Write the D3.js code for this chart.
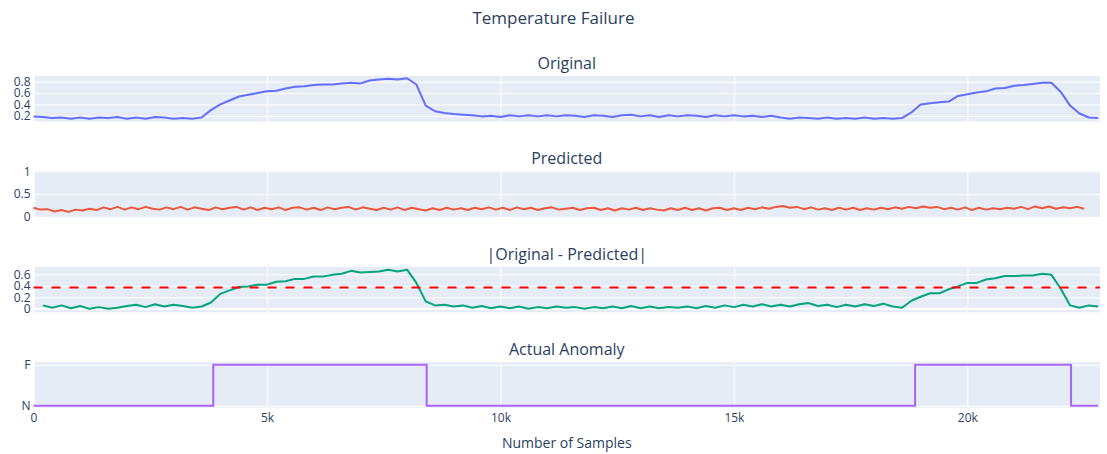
<!DOCTYPE html>
<html>
<head>
<meta charset="utf-8">
<script src="https://cdn.jsdelivr.net/npm/d3@7"></script>
<style>
  body { margin: 0; background: #fff; }
  text { font-family: "Open Sans", sans-serif; fill: #2a3f5f; }
</style>
</head>
<body>
<div id="vis"></div>
<script>
// x axis (sample number) ticks
var xTickValues = [0, 5000, 10000, 15000, 20000];
var xTickLabels = ["0", "5k", "10k", "15k", "20k"];

// Original signal, one reading every 200 samples starting at 0
var originalStep = 200;
var originalValues = [
  0.19,0.18,0.16,0.17,0.15,0.17,0.15,0.17,0.16,0.18,0.15,0.17,0.15,0.18,0.17,0.15,0.16,0.15,
  0.17,0.30,0.40,0.47,0.54,0.57,0.60,0.63,0.64,0.68,
  0.71,0.72,0.74,0.75,0.75,0.77,0.78,0.77,0.82,0.84,
  0.85,0.84,0.86,0.75,0.38,0.28,0.25,0.23,0.22,0.21,0.19,
  0.20,0.18,0.21,0.19,0.21,0.19,0.21,0.19,0.21,0.20,
  0.18,0.21,0.20,0.18,0.21,0.22,0.19,0.21,0.18,0.21,
  0.19,0.21,0.20,0.18,0.21,0.19,0.21,0.19,0.20,0.18,0.20,
  0.17,0.15,0.17,0.16,0.15,0.17,0.15,0.16,0.15,0.17,0.15,0.16,0.15,
  0.16,0.26,0.40,0.42,0.44,0.45,0.55,0.58,0.61,0.63,
  0.68,0.69,0.73,0.74,0.76,0.78,0.78,0.62,0.38,0.24,
  0.17,0.16
];

// Predicted signal, one reading every 150 samples starting at 0
var predictedStep = 150;
var predictedValues = [
  0.20,0.16,0.17,0.12,0.15,0.11,0.16,0.14,0.18,0.15,
  0.21,0.17,0.22,0.16,0.21,0.17,0.22,0.18,0.16,0.21,
  0.17,0.22,0.16,0.21,0.18,0.15,0.21,0.17,0.20,0.22,
  0.16,0.21,0.15,0.20,0.17,0.21,0.15,0.20,0.21,0.16,
  0.20,0.15,0.21,0.17,0.20,0.22,0.16,0.21,0.18,0.15,
  0.20,0.16,0.21,0.15,0.20,0.17,0.14,0.19,0.15,0.20,
  0.16,0.19,0.15,0.20,0.17,0.21,0.16,0.20,0.15,0.21,
  0.17,0.20,0.15,0.19,0.21,0.16,0.18,0.20,0.15,0.19,
  0.20,0.15,0.19,0.14,0.19,0.16,0.20,0.15,0.19,0.16,
  0.14,0.19,0.15,0.20,0.15,0.19,0.14,0.19,0.20,0.15,
  0.19,0.15,0.20,0.17,0.21,0.18,0.22,0.24,0.20,0.22,
  0.17,0.21,0.16,0.19,0.15,0.20,0.16,0.20,0.15,0.19,
  0.16,0.20,0.17,0.21,0.18,0.22,0.19,0.23,0.20,0.22,
  0.17,0.20,0.16,0.21,0.15,0.20,0.16,0.19,0.17,0.20,
  0.18,0.22,0.17,0.23,0.19,0.23,0.18,0.21,0.19,0.22,
  0.18
];

// |Original - Predicted|, one reading every 200 samples starting at 200
var diffStart = 200;
var diffStep = 200;
var diffValues = [
  0.06,0.02,0.06,0.01,0.05,0.00,0.03,0.00,0.02,0.05,0.07,0.03,0.08,0.04,0.07,0.05,0.02,
  0.04,0.11,0.26,0.32,0.38,0.39,0.42,0.42,0.47,0.48,
  0.52,0.52,0.56,0.56,0.59,0.61,0.66,0.63,0.64,0.65,
  0.68,0.65,0.68,0.45,0.13,0.06,0.07,0.04,0.06,0.02,0.05,
  0.01,0.04,0.01,0.04,0.00,0.03,0.01,0.04,0.02,0.03,
  0.00,0.03,0.01,0.04,0.01,0.05,0.01,0.04,0.01,0.03,
  0.02,0.04,0.01,0.05,0.02,0.06,0.03,0.07,0.04,0.08,0.04,
  0.07,0.04,0.08,0.10,0.05,0.07,0.03,0.07,0.04,0.08,0.05,0.09,0.04,
  0.02,0.14,0.21,0.27,0.27,0.34,0.39,0.45,0.45,0.51,
  0.53,0.57,0.57,0.58,0.58,0.61,0.59,0.35,0.06,0.02,
  0.06,0.04
];
var threshold = 0.37;

// Actual anomaly state changes
var anomalySamples = [0, 3850, 8420, 18880, 22220, 22800];
var anomalyStates = ["N", "F", "N", "F", "N", "N"];
var anomalyCategories = ["N", "F"];

// y ticks per panel
var originalTicks = [0.2, 0.4, 0.6, 0.8];
var predictedTicks = [0, 0.5, 1];
var diffTicks = [0, 0.2, 0.4, 0.6];

var width = 1107, height = 454;
var left = 33.5, right = 1100;
var panelH = 45.5, firstTop = 76, pitch = 95.4;

var svg = d3.select("#vis").append("svg")
    .attr("width", width)
    .attr("height", height);

var x = d3.scaleLinear().domain([0, 22840]).range([left, right]);

svg.append("text")
    .attr("x", width / 2)
    .attr("y", 24)
    .attr("text-anchor", "middle")
    .style("font-size", "17px")
    .text("Temperature Failure");

function makePanel(i, title, yDomain, ticks, tickLabels, showX) {
    var top = firstTop + i * pitch;
    var y = d3.scaleLinear().domain(yDomain).range([top + panelH, top]);
    var g = svg.append("g");

    g.append("rect")
        .attr("x", left).attr("y", top)
        .attr("width", right - left).attr("height", panelH)
        .attr("fill", "#E5ECF6");

    // vertical grid + x labels
    var xa = g.append("g")
        .attr("transform", "translate(0," + (top + panelH) + ")")
        .call(d3.axisBottom(x)
            .tickValues(xTickValues)
            .tickSize(-panelH)
            .tickPadding(6)
            .tickFormat(function(d, k) { return showX ? xTickLabels[k] : ""; }));
    xa.select(".domain").remove();
    xa.selectAll("line").attr("stroke", "#fff").attr("stroke-width", 1);
    xa.selectAll("text").style("font-size", "12px").attr("fill", "#2a3f5f");

    // horizontal grid + y labels
    var ya = g.append("g")
        .attr("transform", "translate(" + left + ",0)")
        .call(d3.axisLeft(y)
            .tickValues(ticks)
            .tickSize(-(right - left))
            .tickPadding(3)
            .tickFormat(function(d, k) { return tickLabels ? tickLabels[k] : String(d); }));
    ya.select(".domain").remove();
    ya.selectAll("line").attr("stroke", "#fff").attr("stroke-width", 1);
    ya.selectAll("text").style("font-size", "12px").attr("fill", "#2a3f5f");

    // x zero line
    g.append("line")
        .attr("x1", x(0)).attr("x2", x(0))
        .attr("y1", top).attr("y2", top + panelH)
        .attr("stroke", "#fff").attr("stroke-width", 2);

    svg.append("text")
        .attr("x", (left + right) / 2)
        .attr("y", top - 7)
        .attr("text-anchor", "middle")
        .style("font-size", "16px")
        .text(title);

    return { g: g, y: y, top: top };
}

function drawLine(p, values, start, step, color) {
    var line = d3.line()
        .x(function(d, k) { return x(start + k * step); })
        .y(function(d) { return p.y(d); });
    p.g.append("path")
        .datum(values)
        .attr("d", line)
        .attr("fill", "none")
        .attr("stroke", color)
        .attr("stroke-width", 2)
        .attr("stroke-linejoin", "round");
}

var p1 = makePanel(0, "Original", [0.1, 0.9], originalTicks, null, false);
drawLine(p1, originalValues, 0, originalStep, "#636EFA");

var p2 = makePanel(1, "Predicted", [0, 1], predictedTicks, null, false);
drawLine(p2, predictedValues, 0, predictedStep, "#EF553B");

var p3 = makePanel(2, "|Original - Predicted|", [-0.06, 0.73], diffTicks, null, false);
p3.g.append("line")
    .attr("x1", left).attr("x2", right)
    .attr("y1", p3.y(0)).attr("y2", p3.y(0))
    .attr("stroke", "#fff").attr("stroke-width", 2);
drawLine(p3, diffValues, diffStart, diffStep, "#05A47C");
p3.g.append("line")
    .attr("x1", left).attr("x2", right)
    .attr("y1", p3.y(threshold)).attr("y2", p3.y(threshold))
    .attr("stroke", "#ff0000")
    .attr("stroke-width", 2)
    .attr("stroke-dasharray", "9,9");

var p4 = makePanel(3, "Actual Anomaly", [-0.05, 1.065], [0, 1], anomalyCategories, true);
var stepLine = d3.line()
    .x(function(d, k) { return x(anomalySamples[k]); })
    .y(function(d) { return p4.y(anomalyCategories.indexOf(d)); })
    .curve(d3.curveStepAfter);
p4.g.append("path")
    .datum(anomalyStates)
    .attr("d", stepLine)
    .attr("fill", "none")
    .attr("stroke", "#AB63FA")
    .attr("stroke-width", 2);

svg.append("text")
    .attr("x", (left + right) / 2)
    .attr("y", 448)
    .attr("text-anchor", "middle")
    .style("font-size", "14px")
    .text("Number of Samples");
</script>
</body>
</html>
